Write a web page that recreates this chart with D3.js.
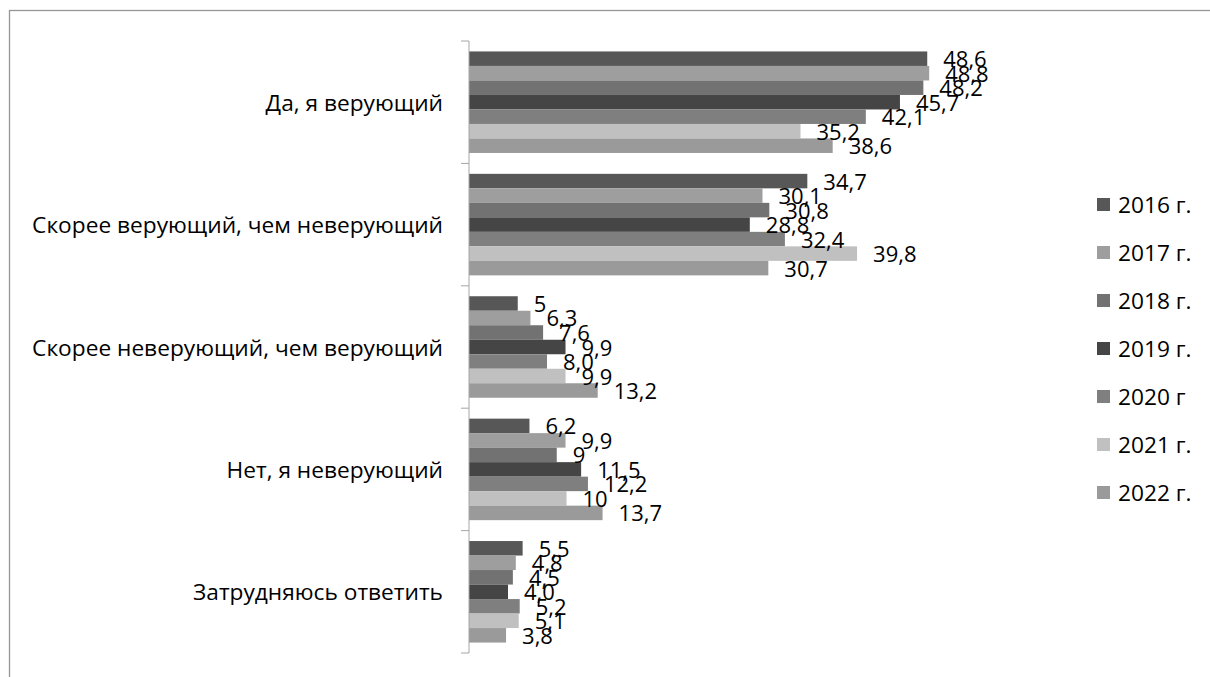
<!DOCTYPE html>
<html>
<head>
<meta charset="utf-8">
<script src="https://cdn.jsdelivr.net/npm/d3@7"></script>
<style>
  body { margin: 0; background: #fff; }
  text { font-family: "Open Sans", sans-serif; fill: #000; }
</style>
</head>
<body>
<div id="chart-area"></div>
<script>
// categories (top to bottom)
let categories = ["Да, я верующий", "Скорее верующий, чем неверующий",
  "Скорее неверующий, чем верующий", "Нет, я неверующий", "Затрудняюсь ответить"];

// series names
let years = ["2016 г.", "2017 г.", "2018 г.", "2019 г.", "2020 г", "2021 г.", "2022 г."];

// bar lengths as drawn, one array per year (over categories)
let v2016 = [47.0, 34.7, 5.0, 6.2, 5.5];
let v2017 = [47.2, 30.1, 6.3, 9.9, 4.8];
let v2018 = [46.6, 30.8, 7.6, 9.0, 4.5];
let v2019 = [44.2, 28.8, 9.9, 11.5, 4.0];
let v2020 = [40.7, 32.4, 8.0, 12.2, 5.2];
let v2021 = [34.0, 39.8, 9.9, 10.0, 5.1];
let v2022 = [37.3, 30.7, 13.2, 13.7, 3.8];

// data labels as printed
let l2016 = ["48,6", "34,7", "5", "6,2", "5,5"];
let l2017 = ["48,8", "30,1", "6,3", "9,9", "4,8"];
let l2018 = ["48,2", "30,8", "7,6", "9", "4,5"];
let l2019 = ["45,7", "28,8", "9,9", "11,5", "4,0"];
let l2020 = ["42,1", "32,4", "8,0", "12,2", "5,2"];
let l2021 = ["35,2", "39,8", "9,9", "10", "5,1"];
let l2022 = ["38,6", "30,7", "13,2", "13,7", "3,8"];

let values = [v2016, v2017, v2018, v2019, v2020, v2021, v2022];
let labels = [l2016, l2017, l2018, l2019, l2020, l2021, l2022];
let colors = ["#575757", "#9e9e9e", "#727272", "#454545", "#7f7f7f", "#c0c0c0", "#9a9a9a"];

// Variable
let w = 1210;
let h = 677;
let fs = 22.7;   // category + legend
let fsv = 22;    // data labels

// make SVG
let svg = d3.select("#chart-area")
    .append("svg")
    .attr("width", w)
    .attr("height", h);

// outer frame (right and bottom edge fall outside the picture)
svg.append("rect")
    .attr("x", 9.5).attr("y", 10.5)
    .attr("width", 1400).attr("height", 900)
    .attr("fill", "none")
    .attr("stroke", "#969696")
    .attr("stroke-width", 1.3);

// band scale for categories
let y = d3.scaleBand()
    .domain(categories)
    .range([41, 653])
    .paddingInner(0)
    .paddingOuter(0);

// inner band scale for years
let y1 = d3.scaleBand()
    .domain(years)
    .range([0, y.bandwidth()])
    .paddingInner(0)
    .paddingOuter(0.72);

// linear scale for values
let x = d3.scaleLinear()
    .domain([0, 60])
    .range([469, 469 + 60 * 9.75]);

// flatten to rows
let rows = [];
years.forEach(function(yr, i){
  categories.forEach(function(c, j){
    rows.push({year: yr, cat: c, value: values[i][j], label: labels[i][j], color: colors[i]});
  });
});

// bars
svg.selectAll("rect.bar")
    .data(rows)
    .enter()
    .append("rect")
      .attr("class", "bar")
      .attr("x", x(0))
      .attr("y", function(d){ return y(d.cat) + y1(d.year); })
      .attr("width", function(d){ return x(d.value) - x(0); })
      .attr("height", y1.bandwidth())
      .attr("fill", function(d){ return d.color; });

// y axis: vertical line + ticks at category boundaries
let gAxis = svg.append("g")
    .attr("transform", "translate(" + x(0) + ",0)");
gAxis.append("line")
    .attr("x1", 0).attr("x2", 0)
    .attr("y1", y.range()[0]).attr("y2", y.range()[1])
    .attr("stroke", "#a6a6a6");
gAxis.selectAll("line.bound")
    .data(categories.concat(["end"]))
    .enter()
    .append("line")
      .attr("class", "bound")
      .attr("x1", -8).attr("x2", 0)
      .attr("y1", function(d){ return d === "end" ? y.range()[1] : y(d); })
      .attr("y2", function(d){ return d === "end" ? y.range()[1] : y(d); })
      .attr("stroke", "#a6a6a6");

// category labels
svg.selectAll("text.cat")
    .data(categories)
    .enter()
    .append("text")
    .attr("class", "cat")
    .text(function(d){ return d; })
    .attr("font-size", fs)
    .attr("text-anchor", "end")
    .attr("x", 443)
    .attr("y", function(d){ return y(d) + y.bandwidth() / 2 + 8.5; });

// data labels
svg.selectAll("text.val")
    .data(rows)
    .enter()
    .append("text")
    .attr("class", "val")
    .text(function(d){ return d.label; })
    .attr("font-size", fsv)
    .attr("x", function(d){ return x(d.value) + 16; })
    .attr("y", function(d){ return y(d.cat) + y1(d.year) + y1.bandwidth() / 2 + 8.5; });

// legend
let legend = svg.selectAll("g.leg")
    .data(years)
    .enter()
    .append("g")
    .attr("class", "leg")
    .attr("transform", function(d, i){ return "translate(1097," + (204.5 + i * 48) + ")"; });
legend.append("rect")
    .attr("x", 0).attr("y", -6.5)
    .attr("width", 13).attr("height", 13)
    .attr("fill", function(d, i){ return colors[i]; });
legend.append("text")
    .text(function(d){ return d; })
    .attr("font-size", fs)
    .attr("x", 21)
    .attr("y", 8);
</script>
</body>
</html>
